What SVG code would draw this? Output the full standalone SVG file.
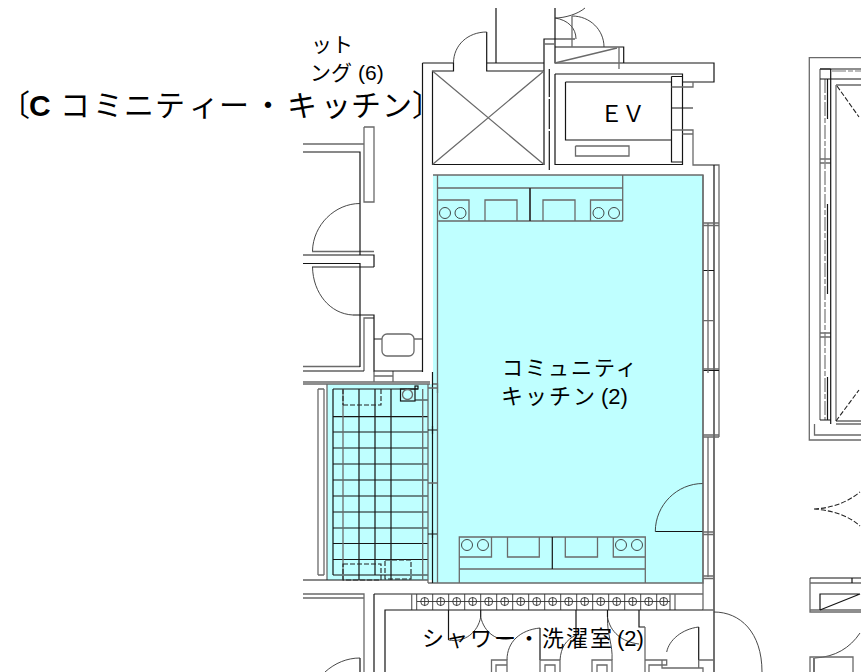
<svg xmlns="http://www.w3.org/2000/svg" width="861" height="672" viewBox="0 0 861 672">
<style>
path,rect,circle{fill:none}
.d{stroke:#151515;stroke-width:1.2}
.g{stroke:#6a6a6a;stroke-width:1.3}
.t{stroke:#333;stroke-width:.9}
.da{stroke:#222;stroke-width:1.1;stroke-dasharray:5 2}
.gd{stroke:#777;stroke-width:1.2;stroke-dasharray:14 2 5 2}
.c{fill:#bfffff}
text{fill:#000;font-family:"Noto Sans CJK JP","Liberation Sans",sans-serif}
.n{font-family:"Liberation Sans",sans-serif}
</style>
<rect width="861" height="672" fill="#fff"/>
<rect class="c" x="433" y="175" width="270" height="408"/>
<rect class="c" x="327" y="384" width="106" height="196"/>

<!-- shaft and EV core -->
<path class="d" d="M496 8V63M422.500 63H453.500V71H432.500V164.500H544V39H575M486.700 32V71H544M486.700 63H544M555 8V63H714V82H682.500M555 74H682.500V164.500H555V74M565.500 82H671.500V140H565.500V82M671.500 76.500H682.500V162H671.500V76.500M671.500 108H693M555 47H623.700V63M422.500 63V372"/>
<path class="t" d="M453.500 63C453.500 45 468 32 486.700 32M572 16C590 16 604 30 604 47M555 18C568 20 576 28 576 39M555 18C565 18 578 14 585 8"/>
<path class="g" d="M432.500 71L544 164.500M544 71L432.500 164.500M555 63L617 48M619 47V69M572 16V47M544 44H555M682.500 87H693V82M682.500 130H693V165H719V437M682.500 134H693M575.500 146H629V156H575.500V146M671.500 87H682.500M671.500 130H682.500"/>
<path class="d" d="M549.300 69V170" stroke-dasharray="28 2 30 2 40"/>

<!-- kitchen -->
<path class="g" d="M433 175H703V583H428M437.500 175V583M437.500 188H622.700M622.700 175V221M437.500 221H622.700M530 188V221M437.500 200H469V221M485 221V200H517V221M543 221V200H575V221M590.500 221V200H622.700M459.300 583V537H645.300V583M459.300 557H491.500V537M507.500 537V557H539.300V537M565.300 537V557H597.500V537M613.300 537V557H645.300M459.300 569H645.300"/>
<path class="d" d="M552.300 537V569M530 188V221"/>
<circle class="t" cx="445" cy="213" r="5.500"/><circle class="t" cx="460.500" cy="213" r="5.500"/>
<circle class="t" cx="598.500" cy="213" r="5.500"/><circle class="t" cx="614" cy="213" r="5.500"/>
<circle class="t" cx="467" cy="545" r="5.500"/><circle class="t" cx="483" cy="545" r="5.500"/>
<circle class="t" cx="621" cy="545" r="5.500"/><circle class="t" cx="637" cy="545" r="5.500"/>
<path class="d" d="M432.500 372V583M655.300 531.500H703"/>
<path class="t" d="M655.300 531.500C655.300 505 677 483.500 703 483.500"/>

<!-- right wall windows -->
<path class="d" d="M714 165V672M703 270.500H714M703 370.500H719"/>
<path class="g" d="M708 223V373M703 223H719M703 225.500H719M703 320.700H714M703 369H719M703 435H719M703 437H719M708 437V577M703 532H714M703 534.500H714M703 576H714M703 578.500H714M703 175V610"/>

<!-- left rooms -->
<path class="g" d="M303 144H364M364 127H374V202H364V127M312 251.500H374M312 267H374M303 366.500H360M364 371V318H374M303 382H430M303 384H430M374 371V382M393 371V382M374 376H393M382 339H374M414 339H422M327 384V580M324 389V575M318 575V389M318 575H324M318 389H324"/>
<path class="d" d="M303 152H360V255M303 255H374V267M303 263.500H360V367M353 315H374V371H422M303 371H364"/>
<path class="t" d="M360 203.500C335 203.500 313 225 312.500 251M312.500 267C313 293 330 314 353 315"/>
<rect class="g" x="382" y="334" width="32" height="22" rx="5"/>

<!-- lobby grid -->
<path class="d" d="M333 389V575M359 389V580M375 389V575M391 389V580M333 389H418M333 416.700H428M333 432H428M333 448H428M333 464H428M333 480H428M333 496H428M333 512H428M333 528H428M333 543.500H428M333 559.500H428M333 575H428M303 580H428M415 400H428"/>
<path class="g" d="M343 389V580M422.700 389V580M428 384V583M433 384H437.500V393M428 388H437.500M428 483H437.500"/>
<path class="d" d="M428 430H437M432.500 426V434M428 534H437M432.500 530V538"/>
<rect class="d" x="400.500" y="389" width="14.500" height="12"/>
<circle class="g" cx="407.500" cy="394.500" r="5"/>
<rect class="d" x="415" y="386" width="3" height="3"/>
<path class="da" d="M343 405H381V389M343 389V405"/>
<rect class="da" x="343" y="564" width="38" height="16"/>
<rect class="da" x="385" y="560" width="26" height="19"/>

<!-- bottom rooms -->
<path class="g" d="M303 594H364V672M303 598H364M374 594H703M670 594V610M675 594V610M703 610H714M411.700 594V610"/>
<path class="d" d="M374 594V672M385 672V610H703M360 658V672M448.500 610V640M480.700 610V617M576 610V636M607.500 610V617M639 610V627H645M540 628V660M698.700 627V660"/>
<g id="cabinet">
<path class="t" d="M417 601.500H670M416.700 594V610M432.700 594V610M448.700 594V610M464.700 594V610M480.700 594V610M496.700 594V610M512.700 594V610M528.700 594V610M544.700 594V610M560.700 594V610M576.700 594V610M592.700 594V610M608.700 594V610M624.700 594V610M640.700 594V610M656.700 594V610M424.700 597V606M440.700 597V606M456.700 597V606M472.700 597V606M488.700 597V606M504.700 597V606M520.700 597V606M536.700 597V606M552.700 597V606M568.700 597V606M584.700 597V606M600.700 597V606M616.700 597V606M632.700 597V606M648.700 597V606M663.700 597V606"/>
<circle class="t" cx="424.700" cy="601.500" r="4"/><circle class="t" cx="440.700" cy="601.500" r="4"/><circle class="t" cx="456.700" cy="601.500" r="4"/><circle class="t" cx="472.700" cy="601.500" r="4"/><circle class="t" cx="488.700" cy="601.500" r="4"/><circle class="t" cx="504.700" cy="601.500" r="4"/><circle class="t" cx="520.700" cy="601.500" r="4"/><circle class="t" cx="536.700" cy="601.500" r="4"/><circle class="t" cx="552.700" cy="601.500" r="4"/><circle class="t" cx="568.700" cy="601.500" r="4"/><circle class="t" cx="584.700" cy="601.500" r="4"/><circle class="t" cx="600.700" cy="601.500" r="4"/><circle class="t" cx="616.700" cy="601.500" r="4"/><circle class="t" cx="632.700" cy="601.500" r="4"/><circle class="t" cx="648.700" cy="601.500" r="4"/><circle class="t" cx="663.700" cy="601.500" r="4"/>
</g>
<path class="t" d="M480.700 617C478 632 465 643 448.500 640M480.700 617C484 632 497 643 513 638M507 660C507 642 520 630 540 628M560 660C561 647 566 640 576 635M607.500 617C610 632 622 642 639 644M607.500 617C607 635 613 645 612 660M666.700 652C669 640 682 629 698.700 627M714 612C740 612 762 632 762 672M325 672C335 663 347 658 360 658"/>
<path class="g" d="M491.500 672V660H507V672M496 672V665H507M540 672V660H560V672M545 672V665H555V672M592 672V660H612V672M597 672V665H607V672M645 627V672M645 660H666.700V665H649V672M662 660V668H703V672M698.700 660H714M698.700 660V668"/>

<!-- right building -->
<path class="g" d="M861 57.700H809.300V440H861M820 69H861M820 69V420M836 85V421M836 85H861M820 159H830.700M820 163H830.700M820 333H830.700M820 337H830.700M836 421H861M836 424H861M814.500 424V435H861"/>
<path class="gd" d="M825 79V420M832 71H861"/>
<path class="d" d="M820 79H861M830.700 69V424M820 69H830.700M820 420H830.700M827.500 79V119M827.500 204V294M827.500 377V420"/>
<path class="da" d="M837 86L859 117M836 421L859 390"/>
<path class="da" d="M814 509C830 508 845 504 860 492M814 509C830 510 848 515 860 526"/>
<path class="g" d="M861 583H810V612H861M861 610H810M810 578V583"/>
<path class="d" d="M810 578H861M852 578V583M820 610V594H860L820 610"/>
<path class="t" d="M860 633C850 648 835 657 815 658"/>
<path class="g" d="M810 672V657H853V672"/>
<path class="d" d="M814 658V672"/>

<!-- labels -->
<text x="311" y="52" font-size="21">ット</text>
<text x="310" y="80" font-size="21">ング<tspan class="n" x="358">(6)</tspan></text>
<text y="116" font-size="30" x="0"><tspan x="0">〔</tspan><tspan class="n" x="29" font-weight="700">C</tspan><tspan x="60 93 124 155 189 219 253 287 321 351 382 412">コミニティー・キッチン〕</tspan></text>
<text x="600 622" y="122" font-size="23">ＥＶ</text>
<text x="502" y="375" font-size="21" letter-spacing="2">コミュニティ</text>
<text x="501" y="404" font-size="22" letter-spacing="2">キッチン<tspan class="n" x="601" letter-spacing="0">(2)</tspan></text>
<text x="422" y="646" font-size="22" letter-spacing="2">シャワー・洗濯室<tspan class="n" x="617" letter-spacing="0">(2)</tspan></text>
</svg>
